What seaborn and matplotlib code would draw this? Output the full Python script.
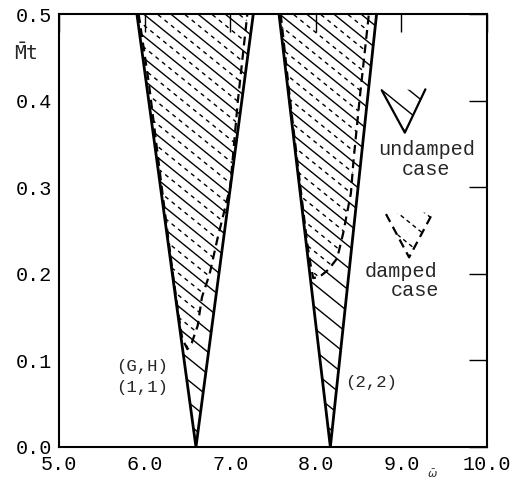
import numpy as np
import pandas as pd
import matplotlib
matplotlib.use("Agg")
import matplotlib.pyplot as plt
import seaborn as sns
from matplotlib.patches import Polygon

# ---------------- data ----------------
y_top = 0.5
wedge_apex_x = [6.60, 8.17]
wedge_top_left_x = [5.91, 7.57]
wedge_top_right_x = [7.27, 8.71]

damped1_x = [5.93, 6.05, 6.20, 6.33, 6.40, 6.44, 6.50, 6.55, 6.62, 6.67, 6.76, 6.85, 7.00, 7.09, 7.20]
damped1_y = [0.50, 0.42, 0.30, 0.20, 0.15, 0.125, 0.113, 0.12, 0.14, 0.173, 0.20, 0.24, 0.30, 0.40, 0.50]
damped2_x = [7.59, 7.70, 7.82, 7.90, 7.94, 7.97, 8.05, 8.15, 8.25, 8.32, 8.41, 8.44, 8.51, 8.62]
damped2_y = [0.50, 0.40, 0.30, 0.235, 0.21, 0.195, 0.197, 0.205, 0.218, 0.247, 0.293, 0.33, 0.40, 0.50]

x_ticks = [5.0, 6.0, 7.0, 8.0, 9.0, 10.0]
y_ticks = [0.0, 0.1, 0.2, 0.3, 0.4, 0.5]
x_tick_labels = ["5.0", "6.0", "7.0", "8.0", "9.0", "10.0"]
y_tick_labels = ["0.0", "0.1", "0.2", "0.3", "0.4", "0.5"]

# legend glyphs (apex, left top, right top)
undamped_glyph_x = [9.04, 8.77, 9.28]
undamped_glyph_y = [0.363, 0.412, 0.413]
damped_glyph_x = [9.09, 8.82, 9.37]
damped_glyph_y = [0.219, 0.269, 0.271]

# ---------------- style ----------------
sns.set_theme(style="white")
MONO = ["Liberation Mono", "DejaVu Sans Mono"]
plt.rcParams["font.family"] = MONO
plt.rcParams["mathtext.fontset"] = "dejavusans"

W, H = 519, 480
fig = plt.figure(figsize=(W / 100, H / 100), dpi=100)
ax = fig.add_axes([59 / W, 1 - 447 / H, (487 - 59) / W, (447 - 14) / H])
ax.set_xlim(5.0, 10.0)
ax.set_ylim(0.0, 0.5)

bbox = ax.get_window_extent()
sx = bbox.width / 5.0      # px per x unit
sy = bbox.height / 0.5     # px per y unit

HATCH_ANGLE = 39.0         # degrees below horizontal (pixel space)
HATCH_SPACING_PX = 22.0    # vertical spacing between solid hatch lines
m = np.tan(np.radians(HATCH_ANGLE)) * sx / sy
db = HATCH_SPACING_PX / sy


def hatch(poly_x, poly_y, offset=0.0, **kw):
    patch = Polygon(np.column_stack([poly_x, poly_y]), closed=True,
                    fill=False, edgecolor="none")
    ax.add_patch(patch)
    xs = np.array([4.5, 10.5])
    for b in np.arange(-1.0 + offset, 1.6, db):
        ln, = ax.plot(xs, b - m * (xs - 5.0), **kw)
        ln.set_clip_path(patch)


# ---------------- wedges (undamped) ----------------
for a, l, r in zip(wedge_apex_x, wedge_top_left_x, wedge_top_right_x):
    hatch([l, a, r], [y_top, 0.0, y_top], offset=0.004,
          color="black", lw=1.0, solid_capstyle="butt")
    df = pd.DataFrame({"x": [l, a, r], "y": [y_top, 0.0, y_top]})
    sns.lineplot(data=df, x="x", y="y", sort=False, estimator=None,
                 color="black", lw=2.0, ax=ax)

# ---------------- damped regions ----------------
for dx, dy in [(damped1_x, damped1_y), (damped2_x, damped2_y)]:
    hatch(dx, dy, offset=0.004 + db / 2, color="black", lw=1.0,
          linestyle=(0, (3, 3)))
    df = pd.DataFrame({"x": dx, "y": dy})
    sns.lineplot(data=df, x="x", y="y", sort=False, estimator=None,
                 color="black", lw=1.6, linestyle=(0, (4, 2.5)), ax=ax)

# ---------------- legend glyphs ----------------
gx, gy = undamped_glyph_x, undamped_glyph_y
hatch([gx[1], gx[0], gx[2]], [gy[1], gy[0], gy[2]], offset=0.012,
      color="black", lw=1.0)
ax.plot([gx[1], gx[0], gx[2]], [gy[1], gy[0], gy[2]], color="black", lw=1.6)
gx, gy = damped_glyph_x, damped_glyph_y
hatch([gx[1], gx[0], gx[2]], [gy[1], gy[0], gy[2]], offset=0.012,
      color="black", lw=1.0, linestyle=(0, (3, 2.5)))
ax.plot([gx[1], gx[0], gx[2]], [gy[1], gy[0], gy[2]], color="black",
        lw=1.6, linestyle=(0, (4, 2.5)))

FS = 14.5
ax.text(9.29, 0.343, "undamped", ha="center", va="center", fontsize=FS)
ax.text(9.29, 0.321, "case", ha="center", va="center", fontsize=FS)
ax.text(9.00, 0.203, "damped", ha="center", va="center", fontsize=FS)
ax.text(9.16, 0.181, "case", ha="center", va="center", fontsize=FS)

# ---------------- annotations ----------------
ax.text(6.27, 0.0935, "(G,H)", ha="right", va="center", fontsize=12.5)
ax.text(6.27, 0.069, "(1,1)", ha="right", va="center", fontsize=12.5)
ax.text(8.34, 0.074, "(2,2)", ha="left", va="center", fontsize=12.5)

# axis titles
ax.text(4.615, 0.455, r"$\bar{\mathtt{M}}\mathtt{t}$", ha="center",
        va="center", fontsize=14, clip_on=False)
ax.text(9.36, -0.031, r"$\bar{\omega}$", ha="center", va="center",
        fontsize=8, clip_on=False)

# ---------------- axes ----------------
ax.set_xticks(x_ticks)
ax.set_xticklabels(x_tick_labels)
ax.set_yticks(y_ticks)
ax.set_yticklabels(y_tick_labels)
ax.set_xlabel("")
ax.set_ylabel("")
ax.tick_params(direction="in", length=13, width=1.0, color="black",
               top=True, right=True, labelsize=FS, labelcolor="black")
ax.tick_params(axis="y", pad=5)
ax.tick_params(axis="x", pad=6)
for s in ax.spines.values():
    s.set_visible(True)
    s.set_color("black")
    s.set_linewidth(1.5)
ax.grid(False)

fig.savefig("out.png", dpi=100)
